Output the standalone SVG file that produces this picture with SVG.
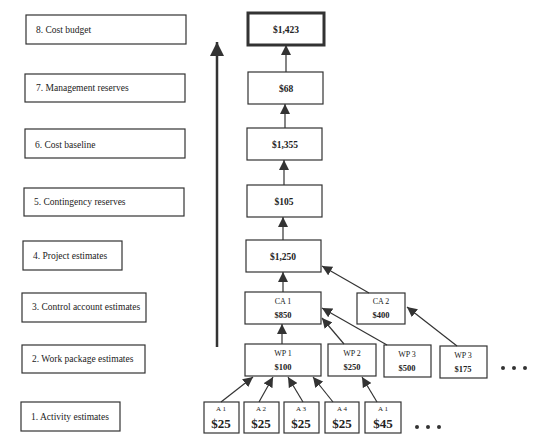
<svg xmlns="http://www.w3.org/2000/svg" width="540" height="447" viewBox="0 0 540 447">
<style>
.b{fill:#fff;stroke:#333;stroke-width:1.2}
.lb{font-family:"Liberation Serif",serif;font-size:9.5px;fill:#222}
.v{font-family:"Liberation Serif",serif;font-size:9.5px;fill:#222;text-anchor:middle;font-weight:bold}
.s{font-family:"Liberation Serif",serif;font-size:8px;fill:#222;text-anchor:middle}
.sv{font-family:"Liberation Serif",serif;font-size:8.5px;fill:#222;text-anchor:middle;font-weight:bold}
.a{font-family:"Liberation Serif",serif;font-size:7px;fill:#222;text-anchor:middle}
.big{font-family:"Liberation Serif",serif;font-size:13px;fill:#222;text-anchor:middle;font-weight:bold}
.c{stroke:#333;stroke-width:1.2;fill:none;marker-end:url(#ah)}
.dot{fill:#333}
</style>
<defs>
<marker id="ah" viewBox="0 0 10 10" refX="10" refY="5" markerWidth="10" markerHeight="10" markerUnits="userSpaceOnUse" orient="auto">
<path d="M0,0 L10,5 L0,10 z" fill="#333"/>
</marker>
<marker id="bh" viewBox="0 0 10 10" refX="10" refY="5" markerWidth="18" markerHeight="14" markerUnits="userSpaceOnUse" orient="auto">
<path d="M0,0 L10,5 L0,10 z" fill="#333"/>
</marker>
</defs>
<rect width="540" height="447" fill="#fff"/>

<g id="level8"><rect class="b" x="26" y="15" width="160" height="29"/><text class="lb" x="36" y="33">8. Cost budget</text></g>
<g id="level7"><rect class="b" x="25" y="74" width="160" height="28"/><text class="lb" x="36" y="91">7. Management reserves</text></g>
<g id="level6"><rect class="b" x="25" y="129" width="160" height="29"/><text class="lb" x="35" y="148">6. Cost baseline</text></g>
<g id="level5"><rect class="b" x="24" y="188" width="160" height="28"/><text class="lb" x="34" y="205">5. Contingency reserves</text></g>
<g id="level4"><rect class="b" x="23" y="241" width="99" height="29"/><text class="lb" x="33" y="259">4. Project estimates</text></g>
<g id="level3"><rect class="b" x="22" y="293" width="124" height="29"/><text class="lb" x="32" y="310">3. Control account estimates</text></g>
<g id="level2"><rect class="b" x="22" y="345" width="123" height="28"/><text class="lb" x="32" y="362">2. Work package estimates</text></g>
<g id="level1"><rect class="b" x="21" y="402" width="99" height="29"/><text class="lb" x="31" y="420">1. Activity estimates</text></g>

<g id="budget"><rect x="248" y="13" width="76" height="32" fill="#fff" stroke="#333" stroke-width="3"/><text class="v" x="286" y="33">$1,423</text></g>
<g id="mgmt"><rect class="b" x="248" y="72" width="75" height="32"/><text class="v" x="286" y="92">$68</text></g>
<g id="baseline"><rect class="b" x="247" y="128" width="75" height="32"/><text class="v" x="285" y="148">$1,355</text></g>
<g id="contingency"><rect class="b" x="247" y="185" width="75" height="32"/><text class="v" x="284" y="205">$105</text></g>
<g id="project"><rect class="b" x="246" y="240" width="75" height="32"/><text class="v" x="283" y="260">$1,250</text></g>
<g id="ca1"><rect class="b" x="245" y="292" width="76" height="32"/><text class="s" x="283" y="304">CA 1</text><text class="sv" x="283" y="318">$850</text></g>
<g id="ca2"><rect class="b" x="357" y="293" width="48" height="31"/><text class="s" x="381" y="304">CA 2</text><text class="sv" x="381" y="318">$400</text></g>
<g id="wp1"><rect class="b" x="245" y="344" width="76" height="32"/><text class="s" x="283" y="356">WP 1</text><text class="sv" x="283" y="370">$100</text></g>
<g id="wp2"><rect class="b" x="328" y="344" width="48" height="32"/><text class="s" x="352" y="356">WP 2</text><text class="sv" x="352" y="370">$250</text></g>
<g id="wp3a"><rect class="b" x="384" y="345" width="47" height="32"/><text class="s" x="407" y="357">WP 3</text><text class="sv" x="407" y="371">$500</text></g>
<g id="wp3b"><rect class="b" x="440" y="346" width="47" height="32"/><text class="s" x="463" y="358">WP 3</text><text class="sv" x="463" y="372">$175</text></g>
<g id="a1"><rect class="b" x="204" y="402" width="35" height="31"/><text class="a" x="221" y="411">A 1</text><text class="big" x="221" y="428">$25</text></g>
<g id="a2"><rect class="b" x="244" y="402" width="35" height="31"/><text class="a" x="261" y="411">A 2</text><text class="big" x="261" y="428">$25</text></g>
<g id="a3"><rect class="b" x="284" y="402" width="35" height="31"/><text class="a" x="301" y="411">A 3</text><text class="big" x="301" y="428">$25</text></g>
<g id="a4"><rect class="b" x="325" y="402" width="34" height="31"/><text class="a" x="342" y="411">A 4</text><text class="big" x="342" y="428">$25</text></g>
<g id="a5"><rect class="b" x="365" y="402" width="36" height="31"/><text class="a" x="383" y="411">A 1</text><text class="big" x="383" y="428">$45</text></g>
<g id="dots1"><circle class="dot" cx="503" cy="368" r="2"/><circle class="dot" cx="514" cy="368" r="2"/><circle class="dot" cx="525" cy="368" r="2"/></g>
<g id="dots2"><circle class="dot" cx="417" cy="427" r="2"/><circle class="dot" cx="428" cy="427" r="2"/><circle class="dot" cx="439" cy="427" r="2"/></g>

<g id="connectors">
<line x1="217" y1="347" x2="217" y2="42" stroke="#333" stroke-width="2.5" marker-end="url(#bh)"/>
<line class="c" x1="286" y1="72" x2="286" y2="45"/>
<line class="c" x1="285" y1="128" x2="285" y2="104"/>
<line class="c" x1="284" y1="185" x2="284" y2="160"/>
<line class="c" x1="283" y1="240" x2="283" y2="217"/>
<line class="c" x1="283" y1="292" x2="283" y2="272"/>
<line class="c" x1="369" y1="293" x2="322" y2="266"/>
<line class="c" x1="282" y1="344" x2="282" y2="324"/>
<line class="c" x1="344" y1="344" x2="322" y2="318"/>
<line class="c" x1="387" y1="345" x2="322" y2="308"/>
<line class="c" x1="457" y1="346" x2="407" y2="307"/>
<line class="c" x1="221" y1="402" x2="253" y2="377"/>
<line class="c" x1="259" y1="402" x2="273" y2="377"/>
<line class="c" x1="303" y1="402" x2="288" y2="377"/>
<line class="c" x1="333" y1="402" x2="313" y2="377"/>
<line class="c" x1="377" y1="402" x2="362" y2="377"/>
</g>
</svg>
